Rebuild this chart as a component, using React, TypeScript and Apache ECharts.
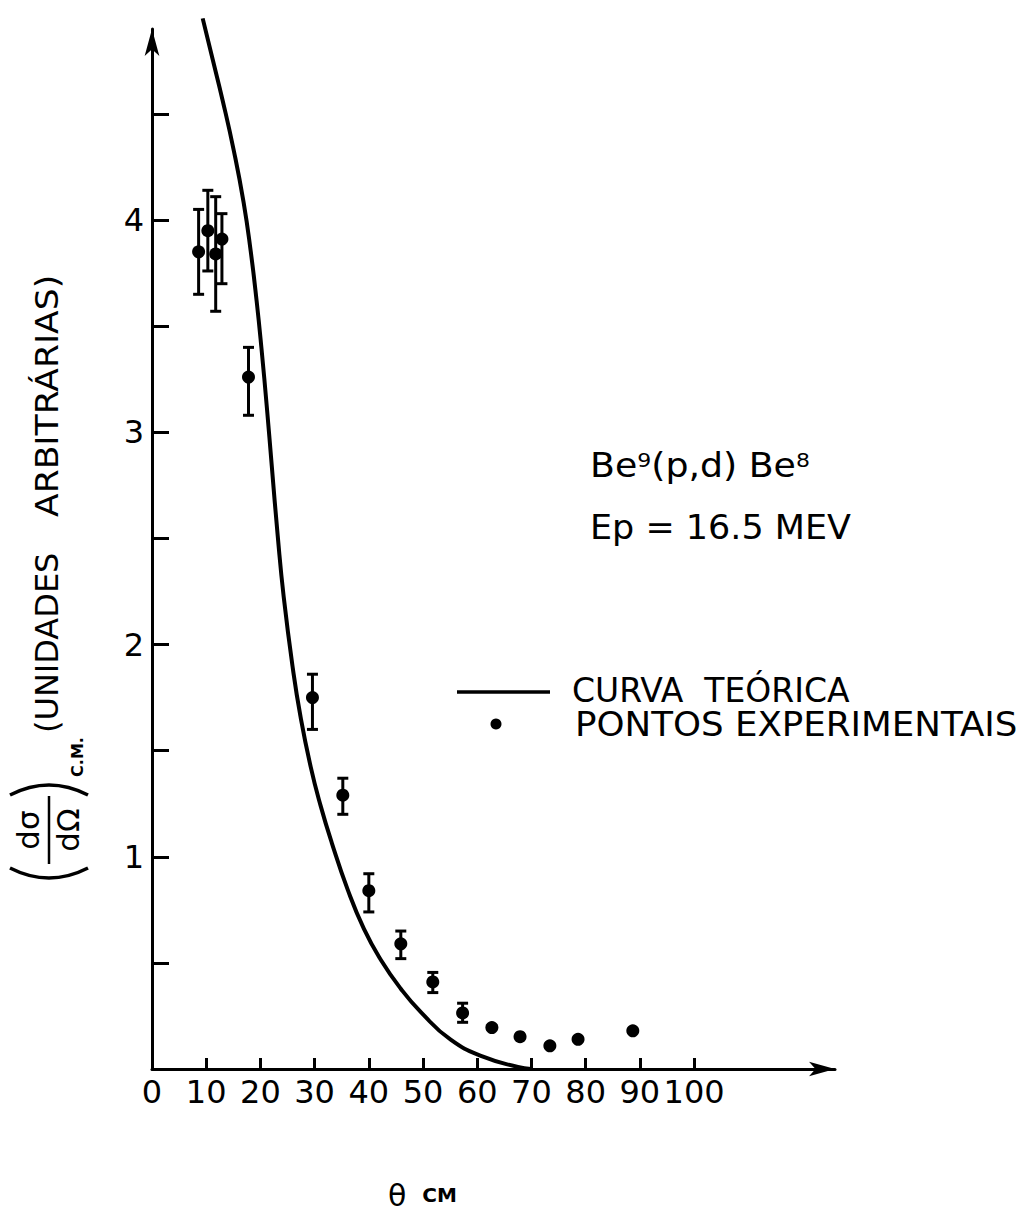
import React, { useEffect, useRef } from 'react';
import * as echarts from 'echarts';

const FONT = '"DejaVu Sans", sans-serif';

const xTickLabels = [0, 10, 20, 30, 40, 50, 60, 70, 80, 90, 100];
const xTickMarks = [10, 20, 30, 40, 50, 60, 70, 80, 90, 100];
const yTickLabels = [1, 2, 3, 4];
const yTickMarks = [0.5, 1, 1.5, 2, 2.5, 3, 3.5, 4, 4.5];

// Theoretical curve (CURVA TEÓRICA)
const curveTheta = [9.35, 11.2, 13.0, 15.1, 16.9, 18.2, 19.3, 20.2, 21.2, 22.1, 23.2, 24.3, 26.0, 27.4, 29.3, 31.1, 33.15, 36.1, 39.1, 42.2, 45.9, 49.6, 55.1, 61.2, 67.5, 69.9];
const curveValue = [4.95, 4.756, 4.567, 4.326, 4.083, 3.855, 3.619, 3.394, 3.114, 2.84, 2.51, 2.224, 1.884, 1.66, 1.421, 1.241, 1.067, 0.845, 0.66, 0.515, 0.378, 0.268, 0.138, 0.057, 0.01, 0.0];

// Experimental points (PONTOS EXPERIMENTAIS)
const expTheta = [8.6, 10.3, 11.75, 12.9, 17.8, 29.6, 35.2, 40.0, 45.9, 51.8, 57.3, 62.7, 67.9, 73.4, 78.6, 88.7];
const expValue = [3.85, 3.95, 3.84, 3.91, 3.26, 1.75, 1.29, 0.84, 0.59, 0.41, 0.264, 0.195, 0.152, 0.109, 0.14, 0.18];

// Error bars
const errTheta = [8.6, 10.3, 11.75, 12.9, 17.8, 29.6, 35.2, 40.0, 45.9, 51.8, 57.3];
const errLow = [3.65, 3.76, 3.57, 3.70, 3.08, 1.60, 1.20, 0.74, 0.52, 0.36, 0.22];
const errHigh = [4.05, 4.14, 4.11, 4.03, 3.40, 1.86, 1.37, 0.92, 0.65, 0.455, 0.31];

export default function App() {
  const ref = useRef<HTMLDivElement>(null);
  useEffect(() => {
    document.body.style.margin = '0';
    document.body.style.overflow = 'hidden';
    const chart = echarts.init(ref.current as HTMLDivElement, null, { renderer: 'svg' });
    const black = '#000';
    const curveData = curveTheta.map((t, i) => [t, curveValue[i]]);
    const expData = expTheta.map((t, i) => [t, expValue[i]]);
    const errData = errTheta.map((t, i) => [t, errLow[i], errHigh[i]]);

    const txt = (x: number, y: number, text: string, fontSize: number, extra: any = {}) => ({
      type: 'text',
      x,
      y,
      scaleX: extra.scaleX ?? 1,
      style: {
        text,
        fill: black,
        fontFamily: FONT,
        fontSize,
        fontWeight: extra.fontWeight ?? 'normal',
        align: extra.align ?? 'left',
        verticalAlign: 'middle',
        rich: extra.rich,
      },
    });

    chart.setOption({
      animation: false,
      backgroundColor: '#fff',
      grid: { left: 152, top: 29, width: 683, height: 1040, containLabel: false, outerBoundsMode: 'none' },
      xAxis: {
        type: 'value',
        min: 0,
        max: 126,
        interval: 10,
        axisLine: {
          show: true,
          symbol: ['none', 'arrow'],
          symbolSize: [11, 26],
          lineStyle: { color: black, width: 3 },
        },
        axisTick: {
          show: true,
          inside: true,
          length: 11,
          customValues: xTickMarks,
          lineStyle: { color: black, width: 3 },
        },
        axisLabel: {
          show: true,
          customValues: xTickLabels,
          color: black,
          fontFamily: FONT,
          fontSize: 32,
          margin: 7,
          hideOverlap: false,
        },
        splitLine: { show: false },
      },
      yAxis: {
        type: 'value',
        min: 0,
        max: 4.9,
        interval: 0.5,
        axisLine: {
          show: true,
          symbol: ['none', 'arrow'],
          symbolSize: [11, 27],
          lineStyle: { color: black, width: 3 },
        },
        axisTick: {
          show: true,
          inside: true,
          length: 17,
          customValues: yTickMarks,
          lineStyle: { color: black, width: 3 },
        },
        axisLabel: {
          show: true,
          customValues: yTickLabels,
          color: black,
          fontFamily: FONT,
          fontSize: 32,
          margin: 8,
          hideOverlap: false,
        },
        splitLine: { show: false },
      },
      series: [
        {
          name: 'CURVA TEÓRICA',
          type: 'line',
          data: curveData,
          smooth: 0.5,
          showSymbol: false,
          symbol: 'none',
          clip: false,
          lineStyle: { color: black, width: 4, opacity: 1 },
          silent: true,
        },
        {
          type: 'custom',
          data: errData,
          clip: false,
          encode: { x: 0, y: [1, 2] },
          renderItem: (params: any, api: any) => {
            const x = api.value(0);
            const pLo = api.coord([x, api.value(1)]);
            const pHi = api.coord([x, api.value(2)]);
            const cw = 5.5;
            const style = { stroke: black, lineWidth: 3 };
            return {
              type: 'group',
              children: [
                { type: 'line', shape: { x1: pLo[0], y1: pLo[1], x2: pHi[0], y2: pHi[1] }, style },
                { type: 'line', shape: { x1: pHi[0] - cw, y1: pHi[1], x2: pHi[0] + cw, y2: pHi[1] }, style },
                { type: 'line', shape: { x1: pLo[0] - cw, y1: pLo[1], x2: pLo[0] + cw, y2: pLo[1] }, style },
              ],
            };
          },
        },
        {
          name: 'PONTOS EXPERIMENTAIS',
          type: 'scatter',
          data: expData,
          symbol: 'circle',
          symbolSize: 13,
          clip: false,
          itemStyle: { color: black, opacity: 1 },
        },
      ],
      graphic: [
        {
          type: 'group',
          x: 0,
          y: 880,
          rotation: Math.PI / 2,
          children: [
            { type: 'bezierCurve', shape: { x1: 12, y1: 10, x2: 12, y2: 88, cpx1: -8, cpy1: 49 }, style: { stroke: black, lineWidth: 3.5, fill: 'none' } },
            { type: 'bezierCurve', shape: { x1: 85, y1: 10, x2: 85, y2: 88, cpx1: 105, cpy1: 49 }, style: { stroke: black, lineWidth: 3.5, fill: 'none' } },
            { type: 'line', shape: { x1: 16, y1: 49, x2: 84, y2: 49 }, style: { stroke: black, lineWidth: 2.5 } },
            txt(50, 28, 'dσ', 31, { align: 'center' }),
            txt(50, 68, 'dΩ', 31, { align: 'center' }),
            txt(123, 77, 'C.M.', 16, { align: 'center', fontWeight: 'bold' }),
            txt(147, 47, '(UNIDADES', 32),
            txt(363, 47, 'ARBITRÁRIAS)', 32, { scaleX: 1.08 }),
          ],
        },
        txt(590, 466, '{n|Be}{s|9}{n|(p,d) Be}{s|8}', 33, {
          scaleX: 1.1,
          rich: {
            n: { fontSize: 33, fontFamily: FONT, fill: black },
            s: { fontSize: 20, fontFamily: FONT, fill: black, verticalAlign: 'top' },
          },
        }),
        txt(590, 527, 'Ep = 16.5 MEV', 33, { scaleX: 1.06 }),
        { type: 'line', shape: { x1: 457, y1: 692, x2: 550, y2: 692 }, style: { stroke: black, lineWidth: 3.5 } },
        txt(572, 690, 'CURVA  TEÓRICA', 33),
        { type: 'circle', shape: { cx: 496, cy: 724, r: 5.5 }, style: { fill: black } },
        txt(575, 724, 'PONTOS EXPERIMENTAIS', 33, { scaleX: 1.08 }),
        txt(388, 1195, '{t|θ}{s|CM}', 30, {
          rich: {
            t: { fontSize: 30, fontFamily: FONT, fill: black },
            s: { fontSize: 20, fontFamily: FONT, fontWeight: 'bold', fill: black, padding: [0, 0, 0, 16] },
          },
        }),
      ],
    });
    return () => chart.dispose();
  }, []);
  return <div ref={ref} style={{ position: 'absolute', left: 0, top: 0, width: 1032, height: 1211 }} />;
}
